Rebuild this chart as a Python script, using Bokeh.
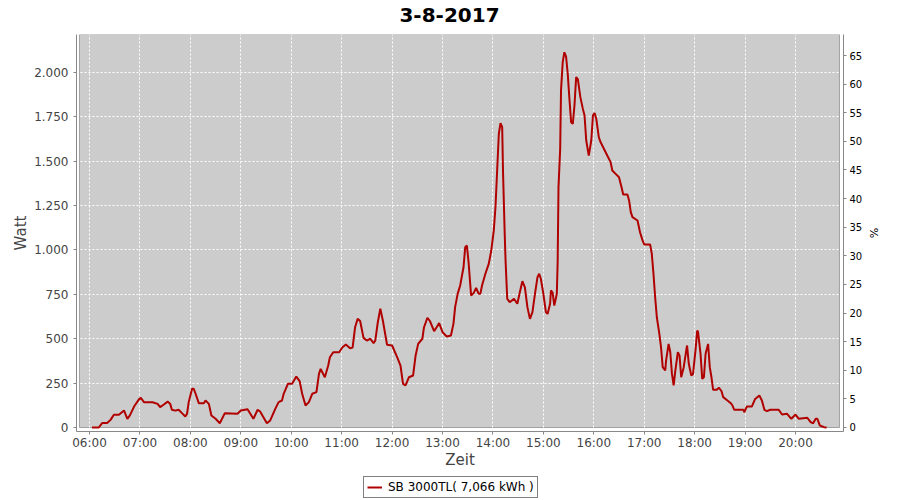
from bokeh.plotting import figure
from bokeh.layouts import column
from bokeh.models import LinearAxis, Range1d, FixedTicker, BoxAnnotation, Legend, LegendItem, Label
from bokeh.embed import file_html
from bokeh.resources import INLINE

# ---------------- data ----------------
times = [
    "06:03", "06:11", "06:15", "06:21", "06:25", "06:29", "06:35", "06:41", "06:45", "06:48",
    "06:53", "06:59", "07:01", "07:05", "07:15", "07:21", "07:24", "07:28", "07:33", "07:36",
    "07:38", "07:42", "07:46", "07:50", "07:54", "07:56", "07:58", "08:02", "08:04", "08:06",
    "08:10", "08:16", "08:18", "08:22", "08:25", "08:30", "08:35", "08:41", "08:56", "09:00",
    "09:08", "09:15", "09:20", "09:23", "09:31", "09:35", "09:41", "09:45", "09:49", "09:51",
    "09:56", "10:01", "10:06", "10:10", "10:13", "10:17", "10:21", "10:25", "10:30", "10:33",
    "10:35", "10:40", "10:44", "10:46", "10:50", "10:57", "11:01", "11:05", "11:10", "11:13",
    "11:16", "11:19", "11:22", "11:26", "11:30", "11:34", "11:38", "11:40", "11:43", "11:46",
    "11:49", "11:54", "12:00", "12:06", "12:10", "12:13", "12:16", "12:20", "12:25", "12:28",
    "12:31", "12:36", "12:38", "12:42", "12:45", "12:50", "12:53", "12:56", "13:00", "13:05",
    "13:10", "13:13", "13:15", "13:18", "13:21", "13:25", "13:27", "13:29", "13:31", "13:34",
    "13:37", "13:40", "13:43", "13:45", "13:47", "13:51", "13:55", "13:58", "14:01", "14:03",
    "14:05", "14:07", "14:09", "14:11", "14:12", "14:14", "14:15", "14:17", "14:20", "14:25",
    "14:29", "14:32", "14:35", "14:38", "14:41", "14:44", "14:47", "14:50", "14:53", "14:55",
    "14:57", "15:00", "15:03", "15:05", "15:08", "15:09", "15:11", "15:13", "15:16", "15:17",
    "15:18", "15:20", "15:21", "15:23", "15:25", "15:27", "15:29", "15:31", "15:33", "15:35",
    "15:37", "15:39", "15:41", "15:44", "15:47", "15:49", "15:51", "15:54", "15:57", "15:59",
    "16:01", "16:03", "16:06", "16:08", "16:12", "16:16", "16:20", "16:22", "16:26", "16:30",
    "16:33", "16:35", "16:40", "16:42", "16:44", "16:46", "16:52", "16:55", "16:58", "17:00",
    "17:07", "17:09", "17:11", "17:13", "17:15", "17:18", "17:20", "17:22", "17:25", "17:26",
    "17:29", "17:31", "17:33", "17:35", "17:37", "17:40", "17:42", "17:44", "17:47", "17:50",
    "17:51", "17:53", "17:56", "17:58", "18:01", "18:03", "18:04", "18:07", "18:09", "18:11",
    "18:13", "18:16", "18:18", "18:20", "18:22", "18:26", "18:29", "18:32", "18:34", "18:39",
    "18:43", "18:45", "18:47", "18:58", "18:59", "19:02", "19:08", "19:12", "19:17", "19:20",
    "19:23", "19:26", "19:30", "19:40", "19:44", "19:50", "19:55", "20:00", "20:04", "20:14",
    "20:18", "20:21", "20:24", "20:26", "20:29", "20:34", "20:37",
]
watt = [
    0, 0, 25, 25, 43, 72, 72, 96, 49, 68,
    118, 160, 167, 142, 142, 133, 115, 128, 146, 133,
    100, 95, 100, 81, 62, 77, 143, 218, 218, 193,
    137, 137, 152, 133, 68, 49, 24, 81, 78, 96,
    103, 49, 100, 90, 24, 40, 105, 143, 152, 190,
    246, 246, 287, 261, 190, 124, 143, 190, 199, 302,
    330, 283, 349, 396, 424, 424, 452, 468, 447, 450,
    565, 612, 600, 505, 490, 500, 475, 490, 593, 669,
    603, 466, 462, 396, 349, 246, 237, 283, 293, 406,
    471, 500, 565, 618, 600, 543, 565, 588, 537, 513,
    518, 584, 678, 753, 800, 903, 1016, 1025, 931, 744,
    757, 787, 753, 753, 800, 866, 922, 997, 1110, 1241,
    1448, 1655, 1715, 1692, 1438, 1091, 941, 725, 706, 725,
    697, 762, 824, 790, 678, 612, 650, 753, 847, 866,
    838, 753, 650, 640, 697, 772, 760, 687, 753, 931,
    1354, 1570, 1899, 2058, 2114, 2090, 1992, 1851, 1720, 1711,
    1814, 1974, 1963, 1861, 1795, 1758, 1617, 1532, 1617, 1758,
    1771, 1738, 1635, 1608, 1570, 1532, 1495, 1448, 1429, 1410,
    1354, 1313, 1313, 1279, 1213, 1185, 1166, 1100, 1054, 1031,
    1031, 979, 866, 734, 621, 528, 452, 340, 321, 377,
    471, 424, 302, 237, 321, 424, 406, 283, 340, 434,
    462, 359, 293, 300, 434, 546, 540, 415, 274, 283,
    415, 471, 340, 283, 212, 212, 224, 204, 171, 152,
    137, 124, 100, 100, 86, 118, 118, 161, 180, 152,
    100, 92, 100, 100, 73, 77, 49, 73, 49, 55,
    30, 24, 49, 49, 11, 2, 0,
]
hour_labels = ["06:00", "07:00", "08:00", "09:00", "10:00", "11:00", "12:00", "13:00",
               "14:00", "15:00", "16:00", "17:00", "18:00", "19:00", "20:00"]
watt_tick_values = [0, 250, 500, 750, 1000, 1250, 1500, 1750, 2000]
watt_tick_labels = ["0", "250", "500", "750", "1.000", "1.250", "1.500", "1.750", "2.000"]
pct_tick_values = [0, 5, 10, 15, 20, 25, 30, 35, 40, 45, 50, 55, 60, 65]
title_text = "3-8-2017"
series_label = "SB 3000TL( 7,066 kWh )"
x_title = "Zeit"
y_title = "Watt"
y2_title = "%"


def to_min(s):
    h, m = s.split(":")
    return (int(h) - 6) * 60 + int(m)


x = [to_min(t) for t in times]
hour_pos = [to_min(t) for t in hour_labels]

FONT = "DejaVu Sans"
LINE_RED = "#B00000"
AXIS_GRAY = "#888888"
TEXT_GRAY = "#444444"

# layout geometry (page pixels)
FRAME_LEFT, FRAME_RIGHT = 76, 843


def strip(height):
    # column layouts align the frames horizontally with the main chart,
    # so the x range is expressed in page pixels of that frame
    f = figure(width=900, height=height, output_backend="svg", toolbar_location=None,
               x_range=Range1d(FRAME_LEFT, FRAME_RIGHT), y_range=Range1d(0, height),
               x_axis_type=None, y_axis_type=None,
               min_border_left=0, min_border_right=0, min_border_top=0, min_border_bottom=0,
               background_fill_color="white", border_fill_color="white")
    f.outline_line_color = None
    return f


# ---------------- title strip ----------------
pt = strip(34)
pt.add_layout(Label(x=449, y=20, text=title_text, text_align="center", text_baseline="alphabetic",
                    text_font=FONT, text_font_size="20px", text_font_style="bold",
                    text_color="black"))

# ---------------- main chart ----------------
p = figure(width=900, height=442, output_backend="svg", toolbar_location=None,
           x_range=Range1d(-15.5, 897.1), y_range=Range1d(-22.5, 2214),
           min_border_left=FRAME_LEFT, min_border_right=900 - FRAME_RIGHT,
           min_border_top=0, min_border_bottom=45,
           background_fill_color="white", border_fill_color="white")
p.title = None
p.outline_line_color = None

# gray plot area with black border (inset from axes)
box = BoxAnnotation(left=-11.9, right=892.3, bottom=0, top=2214,
                    fill_color="#CCCCCC", fill_alpha=1.0,
                    line_color="black", line_width=1, level="image")
p.add_layout(box)

# grids
p.xgrid.ticker = FixedTicker(ticks=hour_pos)
p.ygrid.ticker = FixedTicker(ticks=watt_tick_values[1:])
for g in (p.xgrid, p.ygrid):
    g.grid_line_color = "white"
    g.grid_line_dash = "2 2"
    g.grid_line_width = 1

# x axis
xa = p.xaxis[0]
xa.ticker = FixedTicker(ticks=hour_pos)
xa.major_label_overrides = {pos: lab for pos, lab in zip(hour_pos, hour_labels)}
xa.axis_label = x_title

# left axis
ya = p.yaxis[0]
ya.ticker = FixedTicker(ticks=watt_tick_values)
ya.major_label_overrides = {v: lab for v, lab in zip(watt_tick_values, watt_tick_labels)}
ya.axis_label = y_title

# right axis
p.extra_y_ranges = {"pct": Range1d(-0.70, 68.67)}
ra = LinearAxis(y_range_name="pct", ticker=FixedTicker(ticks=pct_tick_values), axis_label=y2_title)
p.add_layout(ra, "right")

for ax in (xa, ya, ra):
    ax.axis_line_color = AXIS_GRAY
    ax.major_tick_line_color = AXIS_GRAY
    ax.minor_tick_line_color = None
    ax.major_tick_in = 0
    ax.major_tick_out = 3
    ax.major_label_text_font = FONT
    ax.major_label_text_font_size = "12px"
    ax.major_label_text_color = TEXT_GRAY
    ax.axis_label_text_font = FONT
    ax.axis_label_text_font_size = "15px"
    ax.axis_label_text_font_style = "normal"
    ax.axis_label_text_color = TEXT_GRAY

xa.major_label_standoff = 1
xa.axis_label_standoff = -2
ya.major_label_standoff = 5
ya.axis_label_standoff = 1
ra.major_label_standoff = 3
ra.major_label_text_font_size = "10px"
ra.major_label_text_color = "black"
ra.axis_label_text_font_size = "11px"
ra.axis_label_text_color = "black"
ra.axis_label_standoff = 2

# data line
r = p.line(x, watt, line_color=LINE_RED, line_width=2)

# ---------------- legend strip ----------------
pl = strip(24)
r2 = pl.line([0, 1], [-20, -10], line_color=LINE_RED, line_width=2)
legend = Legend(items=[LegendItem(label=series_label, renderers=[r2])],
                location=(363 - FRAME_LEFT, 2), orientation="horizontal",
                label_text_font=FONT, label_text_font_size="12px", label_text_color="black",
                glyph_width=15, glyph_height=14, label_height=14, label_standoff=6,
                padding=3, margin=0, spacing=0,
                border_line_color="black", border_line_width=1,
                background_fill_color="white", background_fill_alpha=1.0)
pl.add_layout(legend)

layout = column(pt, p, pl, spacing=0)
open("out.html", "w").write(file_html(layout, INLINE))
